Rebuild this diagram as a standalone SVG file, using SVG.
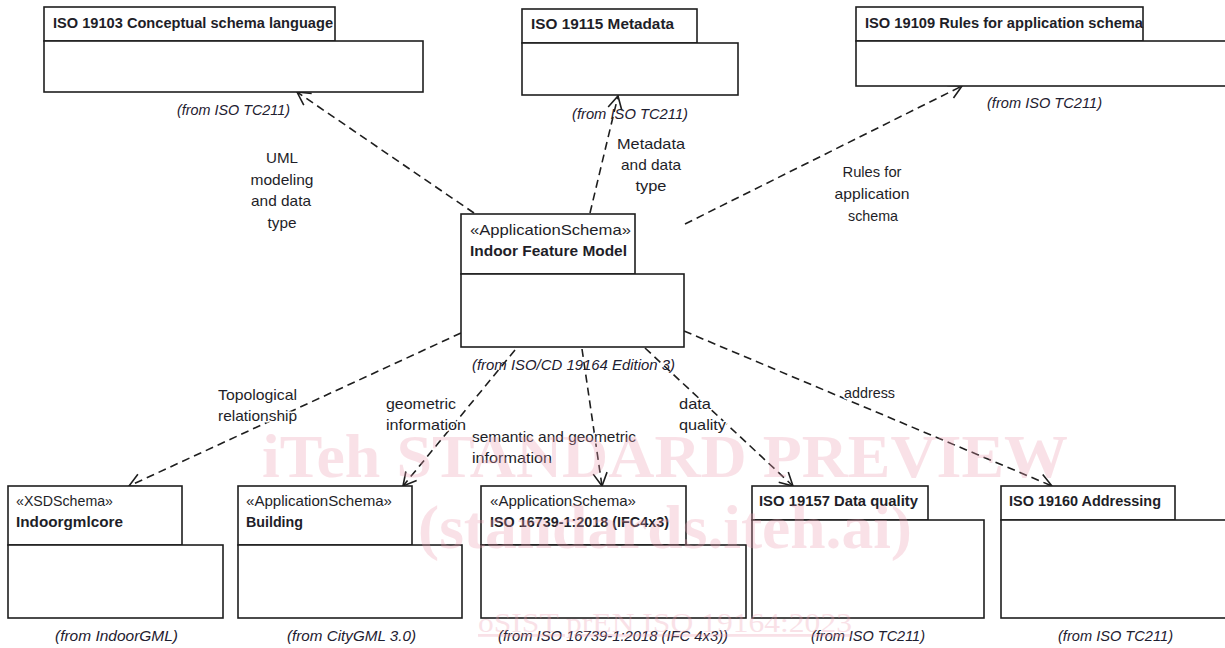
<svg xmlns="http://www.w3.org/2000/svg" width="1225" height="648" viewBox="0 0 1225 648">
<style>
.box{fill:#fff;stroke:#1e1e1e;stroke-width:1.6}
.t{font-family:"Liberation Sans",Arial,sans-serif;font-size:15px;fill:#1e1e28}
.b{font-weight:bold}
.i{font-style:italic;fill:#1e2030}
.c{text-anchor:middle}
.lbl{paint-order:stroke;stroke:#fff;stroke-width:3px;stroke-linejoin:round}
.dep{fill:none;stroke:#1e1e1e;stroke-width:1.6;stroke-dasharray:8 5;marker-end:url(#open)}
.wm{font-family:"Liberation Serif","Times New Roman",serif;fill:#ee9fb2;opacity:0.3}
</style>
<defs>
<marker id="open" markerUnits="userSpaceOnUse" markerWidth="16" markerHeight="16" refX="14" refY="8" orient="auto">
<path d="M1,1 L14,8 L1,15" fill="none" stroke="#1e1e1e" stroke-width="1.6"/>
</marker>
</defs>
<rect width="1225" height="648" fill="#fff"/>

<g id="connectors">
<line class="dep" x1="474" y1="213" x2="297" y2="92"/>
<line class="dep" x1="590" y1="213" x2="618" y2="96"/>
<line class="dep" x1="685" y1="224" x2="962" y2="86"/>
<line class="dep" x1="461" y1="333" x2="129" y2="486"/>
<line class="dep" x1="515" y1="350" x2="403" y2="486"/>
<line class="dep" x1="582" y1="349" x2="602" y2="486"/>
<line class="dep" x1="645" y1="348" x2="793" y2="486"/>
<line class="dep" x1="684" y1="331" x2="1052" y2="486"/>
<text class="t lbl c" x="282" y="163" textLength="32" lengthAdjust="spacingAndGlyphs">UML</text>
<text class="t lbl c" x="282" y="185" textLength="63" lengthAdjust="spacingAndGlyphs">modeling</text>
<text class="t lbl c" x="281" y="206" textLength="60" lengthAdjust="spacingAndGlyphs">and data</text>
<text class="t lbl c" x="282" y="228" textLength="29" lengthAdjust="spacingAndGlyphs">type</text>
<text class="t lbl c" x="651" y="149" textLength="68" lengthAdjust="spacingAndGlyphs">Metadata</text>
<text class="t lbl c" x="651" y="170" textLength="60" lengthAdjust="spacingAndGlyphs">and data</text>
<text class="t lbl c" x="651" y="191" textLength="31" lengthAdjust="spacingAndGlyphs">type</text>
<text class="t lbl c" x="872" y="177" textLength="59" lengthAdjust="spacingAndGlyphs">Rules for</text>
<text class="t lbl c" x="872" y="199" textLength="75" lengthAdjust="spacingAndGlyphs">application</text>
<text class="t lbl c" x="873" y="221" textLength="50" lengthAdjust="spacingAndGlyphs">schema</text>
<text class="t lbl" x="218" y="400" textLength="79" lengthAdjust="spacingAndGlyphs">Topological</text>
<text class="t lbl" x="218" y="421" textLength="79" lengthAdjust="spacingAndGlyphs">relationship</text>
<text class="t lbl" x="386" y="409" textLength="70" lengthAdjust="spacingAndGlyphs">geometric</text>
<text class="t lbl" x="386" y="430" textLength="80" lengthAdjust="spacingAndGlyphs">information</text>
<text class="t lbl" x="472" y="442" textLength="164" lengthAdjust="spacingAndGlyphs">semantic and geometric</text>
<text class="t lbl" x="472" y="463" textLength="80" lengthAdjust="spacingAndGlyphs">information</text>
<text class="t lbl" x="679" y="409" textLength="32" lengthAdjust="spacingAndGlyphs">data</text>
<text class="t lbl" x="679" y="430" textLength="47" lengthAdjust="spacingAndGlyphs">quality</text>
<text class="t lbl" x="844" y="398" textLength="51" lengthAdjust="spacingAndGlyphs">address</text>
</g>

<g id="iso19103">
<rect class="box" x="44" y="7" width="291" height="34"/>
<rect class="box" x="44" y="41" width="379" height="51"/>
<text class="t b" x="53" y="28" textLength="280" lengthAdjust="spacingAndGlyphs">ISO 19103 Conceptual schema language</text>
<text class="t i" x="177" y="115" textLength="113" lengthAdjust="spacingAndGlyphs">(from ISO TC211)</text>
</g>

<g id="iso19115">
<rect class="box" x="522" y="9" width="175" height="34"/>
<rect class="box" x="522" y="43" width="216" height="52"/>
<text class="t b" x="531" y="29" textLength="143" lengthAdjust="spacingAndGlyphs">ISO 19115 Metadata</text>
<text class="t i" x="572" y="119" textLength="116" lengthAdjust="spacingAndGlyphs">(from ISO TC211)</text>
</g>

<g id="iso19109">
<rect class="box" x="856" y="7" width="287" height="34"/>
<rect class="box" x="856" y="41" width="375" height="45"/>
<text class="t b" x="865" y="28" textLength="278" lengthAdjust="spacingAndGlyphs">ISO 19109 Rules for application schema</text>
<text class="t i" x="987" y="108" textLength="115" lengthAdjust="spacingAndGlyphs">(from ISO TC211)</text>
</g>

<g id="indoorFeatureModel">
<rect class="box" x="461" y="214" width="174" height="60"/>
<rect class="box" x="461" y="274" width="223" height="73"/>
<text class="t" x="470" y="235" textLength="161" lengthAdjust="spacingAndGlyphs">«ApplicationSchema»</text>
<text class="t b" x="470" y="256" textLength="157" lengthAdjust="spacingAndGlyphs">Indoor Feature Model</text>
<text class="t i" x="472" y="370" textLength="203" lengthAdjust="spacingAndGlyphs">(from ISO/CD 19164 Edition 3)</text>
</g>

<g id="indoorgmlcore">
<rect class="box" x="8" y="486" width="174" height="59"/>
<rect class="box" x="8" y="545" width="215" height="73"/>
<text class="t" x="16" y="506" textLength="97" lengthAdjust="spacingAndGlyphs">«XSDSchema»</text>
<text class="t b" x="16" y="527" textLength="107" lengthAdjust="spacingAndGlyphs">Indoorgmlcore</text>
<text class="t i" x="55" y="641" textLength="123" lengthAdjust="spacingAndGlyphs">(from IndoorGML)</text>
</g>

<g id="building">
<rect class="box" x="238" y="486" width="174" height="59"/>
<rect class="box" x="238" y="545" width="224" height="73"/>
<text class="t" x="246" y="506" textLength="146" lengthAdjust="spacingAndGlyphs">«ApplicationSchema»</text>
<text class="t b" x="246" y="527" textLength="57" lengthAdjust="spacingAndGlyphs">Building</text>
<text class="t i" x="287" y="641" textLength="129" lengthAdjust="spacingAndGlyphs">(from CityGML 3.0)</text>
</g>

<g id="ifc">
<rect class="box" x="481" y="486" width="205" height="59"/>
<rect class="box" x="481" y="545" width="265" height="73"/>
<text class="t" x="490" y="506" textLength="146" lengthAdjust="spacingAndGlyphs">«ApplicationSchema»</text>
<text class="t b" x="490" y="527" textLength="179" lengthAdjust="spacingAndGlyphs">ISO 16739-1:2018 (IFC4x3)</text>
<text class="t i" x="498" y="641" textLength="230" lengthAdjust="spacingAndGlyphs">(from ISO 16739-1:2018 (IFC 4x3))</text>
</g>

<g id="iso19157">
<rect class="box" x="752" y="486" width="176" height="34"/>
<rect class="box" x="752" y="520" width="232" height="98"/>
<text class="t b" x="759" y="506" textLength="159" lengthAdjust="spacingAndGlyphs">ISO 19157 Data quality</text>
<text class="t i" x="811" y="641" textLength="114" lengthAdjust="spacingAndGlyphs">(from ISO TC211)</text>
</g>

<g id="iso19160">
<rect class="box" x="1001" y="486" width="174" height="34"/>
<rect class="box" x="1001" y="520" width="230" height="98"/>
<text class="t b" x="1009" y="506" textLength="152" lengthAdjust="spacingAndGlyphs">ISO 19160 Addressing</text>
<text class="t i" x="1058" y="641" textLength="115" lengthAdjust="spacingAndGlyphs">(from ISO TC211)</text>
</g>

<g id="watermark">
<text class="wm" x="262" y="477" font-size="62" font-weight="bold" textLength="806" lengthAdjust="spacingAndGlyphs">iTeh STANDARD PREVIEW</text>
<text class="wm" x="418" y="548" font-size="62" font-weight="bold" textLength="494" lengthAdjust="spacingAndGlyphs">(standards.iteh.ai)</text>
<text class="wm" x="478" y="632" font-size="28" text-decoration="underline" textLength="374" lengthAdjust="spacingAndGlyphs">oSIST prEN ISO 19164:2023</text>
</g>
</svg>
